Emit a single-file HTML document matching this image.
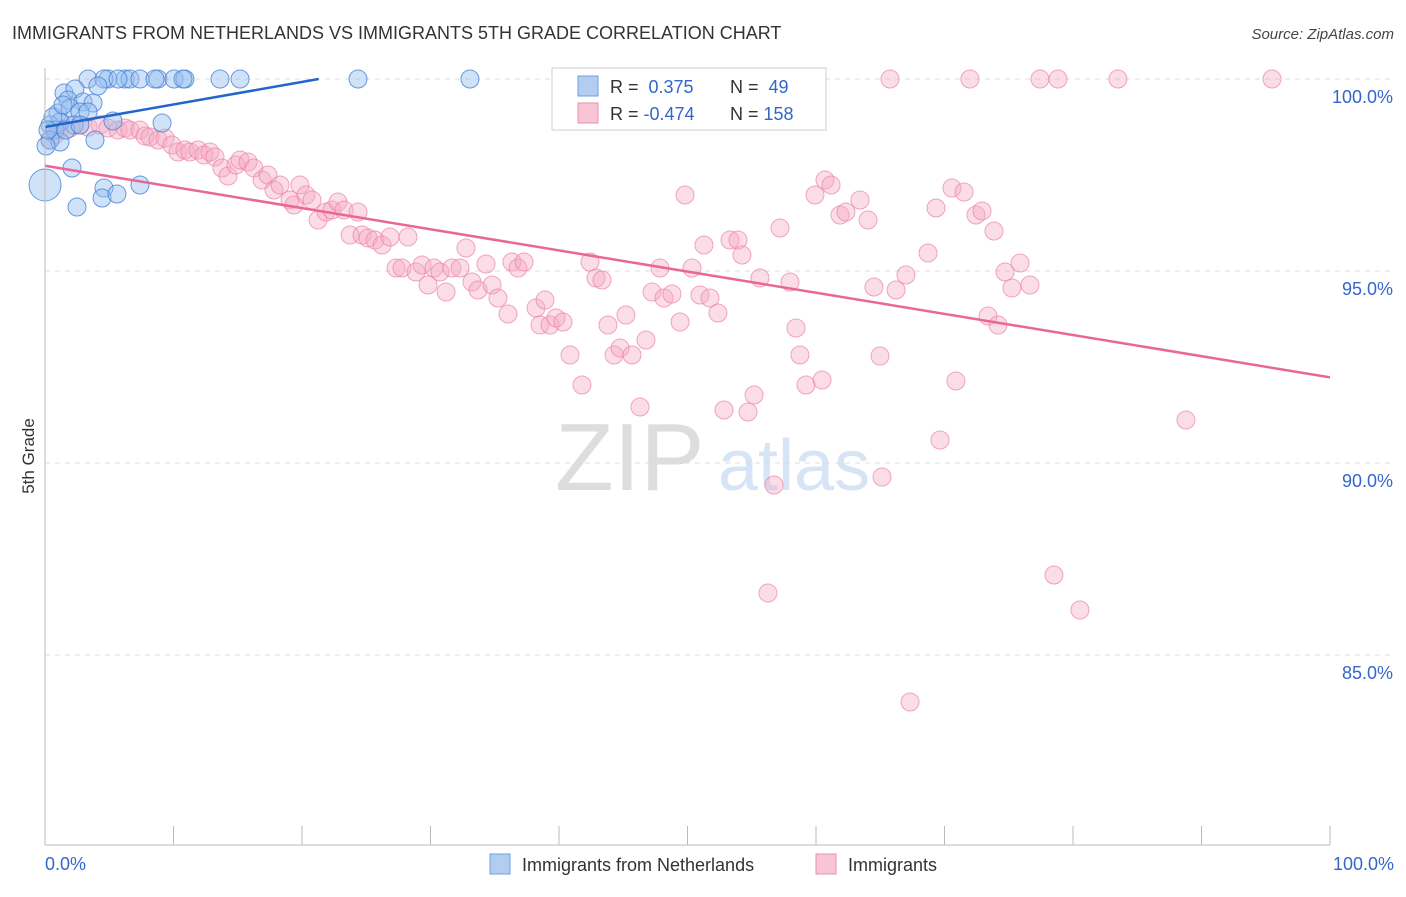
<!DOCTYPE html>
<html><head><meta charset="utf-8"><style>
body{margin:0;background:#fff;font-family:"Liberation Sans",sans-serif;}
svg text{font-family:"Liberation Sans",sans-serif;}
</style></head><body>
<svg id="c" width="1406" height="892">
<text x="12" y="39" font-size="18" fill="#333">IMMIGRANTS FROM NETHERLANDS VS IMMIGRANTS 5TH GRADE CORRELATION CHART</text>
<text x="1394" y="39" font-size="15" fill="#444" text-anchor="end" font-style="italic">Source: ZipAtlas.com</text>
<text x="34" y="456" font-size="17" fill="#333" text-anchor="middle" transform="rotate(-90 34 456)">5th Grade</text>
<text x="555" y="490" font-size="96" fill="#ddd" font-family="Liberation Serif">ZIP</text>
<text x="718" y="490" font-size="72" fill="#d6e4f5">atlas</text>
<g id="grid"></g><g id="pts"></g><g id="lines"></g>
<line x1="45" y1="68" x2="45" y2="845" stroke="#bbb"/>
<line x1="45" y1="845" x2="1330" y2="845" stroke="#bbb"/>
<text x="45" y="870" font-size="18" fill="#3366cc">0.0%</text>
<text x="1394" y="870" font-size="18" fill="#3366cc" text-anchor="end">100.0%</text>
<g>
<rect x="552" y="68" width="274" height="62" fill="#fff" stroke="#ccc"/>
<rect x="578" y="76" width="20" height="20" fill="#b3cdf0" stroke="#6f9ee0"/>
<rect x="578" y="103" width="20" height="20" fill="#f8c5d5" stroke="#ec8fb0"/>
<text x="610" y="93" font-size="18" fill="#333">R = <tspan fill="#3366cc">&#160;0.375</tspan></text>
<text x="730" y="93" font-size="18" fill="#333">N = <tspan fill="#3366cc">&#160;49</tspan></text>
<text x="610" y="120" font-size="18" fill="#333">R = <tspan fill="#3366cc">-0.474</tspan></text>
<text x="730" y="120" font-size="18" fill="#333">N = <tspan fill="#3366cc">158</tspan></text>
</g>
<g>
<rect x="490" y="854" width="20" height="20" fill="#b3cdf0" stroke="#6f9ee0"/>
<text x="522" y="871" font-size="18" fill="#333">Immigrants from Netherlands</text>
<rect x="816" y="854" width="20" height="20" fill="#f8c5d5" stroke="#ec8fb0"/>
<text x="848" y="871" font-size="18" fill="#333">Immigrants</text>
</g>
</svg>
<script>
const yTicks=[100,95,90,85];
const yTickLabels=["100.0%","95.0%","90.0%","85.0%"];
const xTickVals=[0,10,20,30,40,50,60,70,80,90,100];
const bluePx=[[88,79],[108,79],[104,79],[125,79],[130,79],[140,79],[158,79],[174,79],[185,79],[220,79],[240,79],[358,79],[470,79],[64,93],[75,89],[98,86],[68,100],[83,102],[93,103],[58,113],[70,108],[80,112],[60,122],[50,125],[55,130],[74,125],[113,121],[162,123],[50,140],[60,142],[95,140],[72,168],[104,188],[140,185],[102,198],[117,194],[77,207],[46,146],[66,130],[88,112],[80,125],[53,117],[63,105],[48,130],[118,79],[155,79],[183,79],[45,185]];
const pinkPx=[[50,140],[55,135],[60,130],[70,128],[80,125],[88,127],[100,125],[108,128],[118,130],[125,128],[130,130],[140,130],[145,136],[150,137],[158,140],[165,138],[172,145],[178,152],[185,150],[190,152],[198,150],[204,155],[210,152],[215,157],[222,168],[228,176],[236,165],[240,160],[248,162],[254,168],[262,180],[268,175],[274,190],[280,185],[290,200],[294,205],[300,185],[306,195],[312,200],[318,220],[326,212],[332,210],[338,202],[344,210],[350,235],[358,212],[362,235],[368,238],[375,240],[382,245],[390,237],[396,268],[402,268],[408,237],[416,272],[422,265],[428,285],[434,268],[440,272],[446,292],[452,268],[460,268],[466,248],[472,282],[478,290],[486,264],[492,285],[498,298],[508,314],[512,262],[518,268],[524,262],[536,308],[540,325],[545,300],[550,325],[556,318],[563,322],[570,355],[582,385],[590,262],[596,278],[602,280],[608,325],[614,355],[620,348],[626,315],[632,355],[640,407],[646,340],[652,292],[660,268],[664,298],[672,294],[680,322],[685,195],[692,268],[700,295],[704,245],[710,298],[718,313],[724,410],[730,240],[738,240],[742,255],[748,412],[754,395],[760,278],[768,593],[774,485],[780,228],[790,282],[796,328],[800,355],[806,385],[815,195],[822,380],[825,180],[831,185],[840,215],[846,212],[860,200],[868,220],[874,287],[880,356],[882,477],[890,79],[896,290],[906,275],[910,702],[928,253],[936,208],[940,440],[952,188],[956,381],[964,192],[970,79],[976,215],[982,211],[988,316],[994,231],[998,325],[1005,272],[1012,288],[1020,263],[1030,285],[1040,79],[1054,575],[1058,79],[1080,610],[1118,79],[1186,420],[1272,79]];
// convert to data values
const blueX=bluePx.map(p=>+((p[0]-45)/12.85).toFixed(2));
const blueY=bluePx.map(p=>+(100-(p[1]-79)/38.4).toFixed(3));
const pinkX=pinkPx.map(p=>+((p[0]-45)/12.85).toFixed(2));
const pinkY=pinkPx.map(p=>+(100-(p[1]-79)/38.4).toFixed(3));
const blueLine=[[0,98.75],[21.3,100]];
const pinkLine=[[0,97.74],[100,92.23]];
const NS="http://www.w3.org/2000/svg";
const sx=v=>45+v*12.85, sy=v=>79+(100-v)*38.4;
function mk(t,a,p){const e=document.createElementNS(NS,t);for(const k in a)e.setAttribute(k,a[k]);p.appendChild(e);return e;}
const grid=document.getElementById('grid');
yTicks.forEach((v,i)=>{
 const l=mk('line',{x1:45,x2:1394,y1:sy(v),y2:sy(v),stroke:'#ddd','stroke-dasharray':'5,5'},grid);
 
 
 const t=mk('text',{x:1393,y:sy(v)+24,'font-size':18,fill:'#3366cc','text-anchor':'end'},grid);
 t.textContent=yTickLabels[i];
 
 
});
xTickVals.forEach(v=>{
 const l=mk('line',{x1:sx(v),x2:sx(v),y1:826,y2:845,stroke:'#bbb'},grid);
 
 
});
const pts=document.getElementById('pts');
pinkX.forEach((x,i)=>{
 const c=mk('circle',{cx:sx(x),cy:sy(pinkY[i]),r:9,fill:'rgba(246,170,195,0.4)',stroke:'rgba(236,130,165,0.7)','stroke-width':1},pts);
 
 
});
blueX.forEach((x,i)=>{
 const c=mk('circle',{cx:sx(x),cy:sy(blueY[i]),r:i==blueX.length-1?16:9,fill:'rgba(150,190,240,0.45)',stroke:'rgba(70,130,215,0.8)','stroke-width':1},pts);
 
 
});
const lines=document.getElementById('lines');
const bl=mk('line',{x1:sx(blueLine[0][0]),y1:sy(blueLine[0][1]),x2:sx(blueLine[1][0]),y2:sy(blueLine[1][1]),stroke:'#2266cc','stroke-width':2.5},lines);


const pl=mk('line',{x1:sx(pinkLine[0][0]),y1:sy(pinkLine[0][1]),x2:sx(pinkLine[1][0]),y2:sy(pinkLine[1][1]),stroke:'#e8669a','stroke-width':2.5},lines);


</script>
</body></html>
